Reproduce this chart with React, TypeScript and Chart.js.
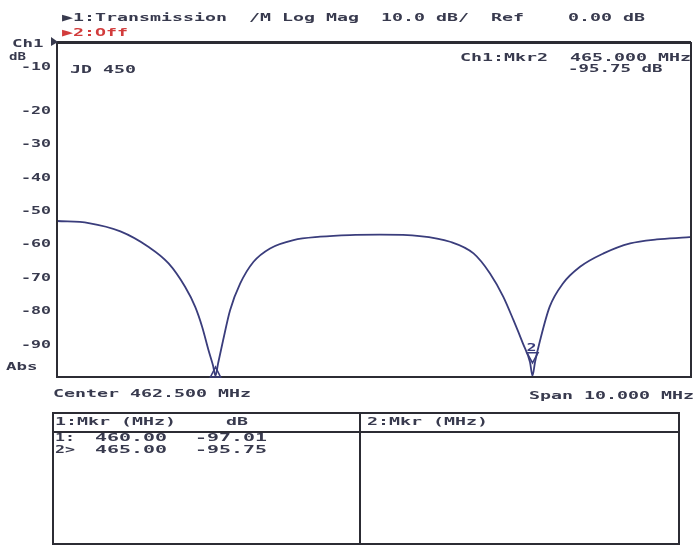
import React, { useEffect, useRef } from "react";
import { Chart, registerables } from "chart.js";

Chart.register(...registerables);

// ---- data ----
const freqMHz = [
  457.5, 458.0, 458.5, 458.94, 459.26, 459.52, 459.68, 459.79, 459.89, 459.96, 460.0, 460.04,
  460.12, 460.23, 460.39, 460.6, 460.86, 461.23, 461.65, 462.12, 462.59, 463.22, 463.7,
  464.07, 464.33, 464.54, 464.7, 464.85, 464.96, 465.0, 465.04, 465.12, 465.27, 465.48, 465.75,
  466.12, 466.54, 466.96, 467.43, 467.5,
];
const traceDb = [
  -53.3, -53.9, -56.4, -61.0, -66.0, -73.0, -79.0, -85.0, -92.0, -96.5, -99.6, -96.0,
  -89.0, -80.0, -72.0, -65.5, -61.5, -59.0, -58.0, -57.5, -57.4, -57.8, -59.5,
  -63.0, -69.0, -76.0, -83.0, -90.0, -95.5, -99.6, -95.5, -89.0, -79.0, -72.0, -67.0,
  -63.0, -60.0, -58.8, -58.2, -58.1,
];
const markerIds = ["1", "2"];
const markerFreqs = [460.0, 465.0];
const markerDb = [-97.01, -95.75];
const yTickValues = [-10, -20, -30, -40, -50, -60, -70, -80, -90];
const yTickLabels = ["-10", "-20", "-30", "-40", "-50", "-60", "-70", "-80", "-90"];
const xMin = 457.5;
const xMax = 467.5;
const yMin = -100;
const yMax = 0;

const headerLine1 = "\u25B61:Transmission  /M Log Mag  10.0 dB/  Ref    0.00 dB";
const headerLine2 = "\u25B62:Off";
const mkrLine1 = "Ch1:Mkr2  465.000 MHz";
const mkrLine2 = "-95.75 dB";
const centerText = "Center 462.500 MHz";
const spanText = "Span 10.000 MHz";
const traceTitle = "JD 450";
const tableHead1 = "1:Mkr (MHz)";
const tableHeadDb = "dB";
const tableHead2 = "2:Mkr (MHz)";
const tableRowIds = ["1:", "2>"];
const tableRowFreqs = ["460.00", "465.00"];
const tableRowDb = ["-97.01", "-95.75"];

const TEXT = "#383a4e";
const RED = "#d23c3c";
const TRACE = "#3a3d7c";
const LINE = "#2c2c34";
const FONT = 'bold 11px "DejaVu Sans Mono"';

function txt(
  ctx: CanvasRenderingContext2D,
  s: string,
  x: number,
  y: number,
  adv = 11,
  color = TEXT,
  align: "left" | "right" | "center" = "left",
  font = FONT
) {
  ctx.save();
  ctx.font = font;
  ctx.fillStyle = color;
  ctx.textBaseline = "alphabetic";
  ctx.textAlign = "left";
  const m = ctx.measureText("M").width;
  const sc = adv / m;
  const total = ctx.measureText(s).width * sc;
  let x0 = x;
  if (align === "right") x0 = x - total;
  if (align === "center") x0 = x - total / 2;
  ctx.translate(x0, y);
  ctx.scale(sc, 1);
  ctx.fillText(s, 0, 0);
  ctx.restore();
}

const decorPlugin = {
  id: "decor",
  beforeDraw(chart: any) {
    const ctx = chart.ctx as CanvasRenderingContext2D;
    ctx.save();
    ctx.fillStyle = "#ffffff";
    ctx.fillRect(0, 0, chart.width, chart.height);
    ctx.restore();
  },
  afterDraw(chart: any) {
    const ctx = chart.ctx as CanvasRenderingContext2D;
    const a = chart.chartArea;
    const xs = chart.scales.x;
    const ys = chart.scales.y;

    // plot frame
    ctx.save();
    ctx.strokeStyle = LINE;
    ctx.lineWidth = 2;
    ctx.strokeRect(a.left, a.top, a.right - a.left, a.bottom - a.top);
    ctx.beginPath();
    ctx.moveTo(a.left, a.top - 1);
    ctx.lineTo(a.right, a.top - 1);
    ctx.stroke();
    ctx.restore();

    // header
    txt(ctx, headerLine1, 62, 21);
    txt(ctx, headerLine2, 62, 36, 11, RED);
    txt(ctx, "Ch1", 12, 47, 10.5);
    ctx.save();
    ctx.fillStyle = TEXT;
    ctx.beginPath();
    ctx.moveTo(a.left - 6, a.top - 6);
    ctx.lineTo(a.left + 1, a.top - 1);
    ctx.lineTo(a.left - 6, a.top + 3);
    ctx.closePath();
    ctx.fill();
    ctx.restore();

    // y labels
    txt(ctx, "dB", 9, 60, 8.5);
    yTickValues.forEach((v, i) => {
      let py = ys.getPixelForValue(v);
      if (i === 0) py -= 10;
      txt(ctx, yTickLabels[i], 51, py + 4, 10, TEXT, "right");
    });
    txt(ctx, "Abs", 6, 370, 10.5);

    // annotations inside
    txt(ctx, traceTitle, 70, 73);
    txt(ctx, mkrLine1, 460, 61);
    txt(ctx, mkrLine2, 568, 72, 10.5);

    // markers
    ctx.save();
    ctx.strokeStyle = TRACE;
    ctx.fillStyle = TRACE;
    ctx.lineWidth = 1.6;
    markerFreqs.forEach((f, i) => {
      const px = xs.getPixelForValue(f);
      const py = ys.getPixelForValue(markerDb[i]);
      ctx.beginPath();
      if (i === 0) {
        ctx.moveTo(px, py);
        ctx.lineTo(px - 5, py + 10);
        ctx.lineTo(px + 5, py + 10);
      } else {
        ctx.moveTo(px, py);
        ctx.lineTo(px - 5.5, py - 10);
        ctx.lineTo(px + 5.5, py - 10);
      }
      ctx.closePath();
      ctx.stroke();
      if (i === 1) {
        txt(ctx, markerIds[i], px - 1, py - 12, 10, TRACE, "center");
      }
    });
    ctx.restore();

    // bottom texts
    txt(ctx, centerText, 53, 397);
    txt(ctx, spanText, 529, 399);

    // table
    const tL = 53, tR = 679, tT = 413, tB = 544, tH = 432, tD = 360;
    ctx.save();
    ctx.strokeStyle = LINE;
    ctx.lineWidth = 2;
    ctx.strokeRect(tL, tT, tR - tL, tB - tT);
    ctx.beginPath();
    ctx.moveTo(tL, tH);
    ctx.lineTo(tR, tH);
    ctx.moveTo(tD, tT);
    ctx.lineTo(tD, tB);
    ctx.stroke();
    ctx.restore();
    txt(ctx, tableHead1, 55, 425, 11);
    txt(ctx, tableHeadDb, 226, 425, 11);
    txt(ctx, tableHead2, 367, 425, 11);
    tableRowIds.forEach((id, i) => {
      const by = 441 + i * 12;
      txt(ctx, id, 55, by, 10);
      txt(ctx, tableRowFreqs[i], 95, by, 12);
      txt(ctx, tableRowDb[i], 195, by, 12);
    });
  },
};

export default function App() {
  const ref = useRef<HTMLCanvasElement | null>(null);
  useEffect(() => {
    document.body.style.margin = "0";
    const canvas = ref.current;
    if (!canvas) return;
    const points = freqMHz.map((f, i) => ({ x: f, y: traceDb[i] }));
    const chart = new Chart(canvas, {
      type: "line",
      data: {
        datasets: [
          {
            label: "Transmission",
            data: points,
            borderColor: TRACE,
            borderWidth: 1.8,
            pointRadius: 0,
            fill: false,
            cubicInterpolationMode: "monotone",
          },
        ],
      },
      options: {
        animation: false,
        responsive: false,
        devicePixelRatio: 1,
        layout: { padding: { left: 57, top: 43, right: 3, bottom: 170 } },
        plugins: { legend: { display: false }, tooltip: { enabled: false } },
        scales: {
          x: { type: "linear", min: xMin, max: xMax, display: false },
          y: { type: "linear", min: yMin, max: yMax, display: false },
        },
      },
      plugins: [decorPlugin],
    });
    return () => chart.destroy();
  }, []);
  return (
    <div style={{ width: 694, height: 547 }}>
      <canvas ref={ref} width={694} height={547} style={{ display: "block" }} />
    </div>
  );
}
